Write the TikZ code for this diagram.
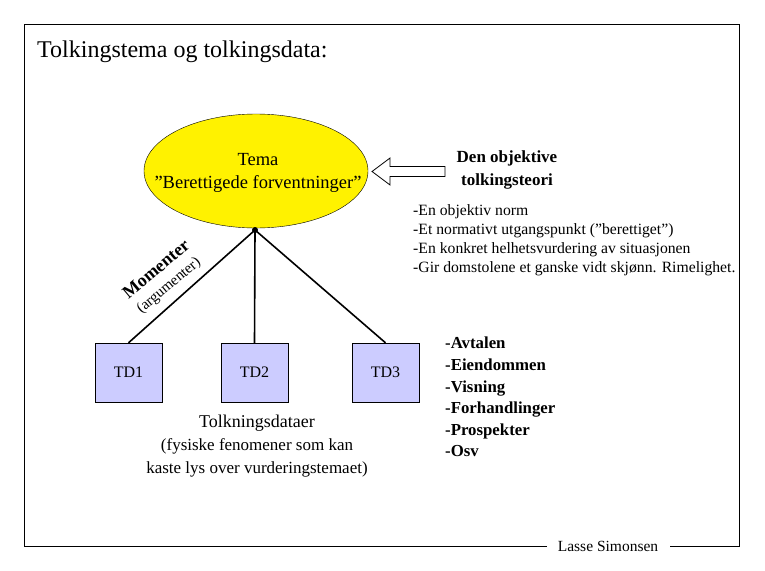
\documentclass[tikz,border=0pt]{standalone}
\usepackage{fontspec}
\setmainfont{Liberation Serif}
\usetikzlibrary{shapes.geometric}
\begin{document}
\begin{tikzpicture}[x=1pt,y=-1pt,
  tdbox/.style={draw=black,fill=tdfill,minimum width=67pt,minimum height=59pt,inner sep=0pt,font=\fontsize{16}{18}\selectfont},
  conn/.style={line width=1.6pt},
  blockarrow/.style={draw=black,fill=white,line width=0.8pt,line join=miter},
  txt/.style={inner sep=0pt,align=left}]
\definecolor{tdfill}{HTML}{CCCCFF}
\useasboundingbox (0,0) rectangle (765,570);
% frame
\node[inner sep=0pt,anchor=base] (sig) at (608,551) {\fontsize{15.5}{17}\selectfont Lasse Simonsen};
\coordinate (fbl) at (24,546);
\coordinate (ftl) at (24,24);
\coordinate (ftr) at (739,24);
\coordinate (fbr) at (739,546);
\coordinate (gapl) at (547,546);
\coordinate (gapr) at (670,546);
\draw[line width=0.8pt] (gapl) -- (fbl) -- (ftl) -- (ftr) -- (fbr) -- (gapr);
% title
\node[txt,anchor=base west] (title) at (37,57) {\fontsize{24}{28}\selectfont Tolkingstema og tolkingsdata:};
% ellipse
\node[ellipse,draw=black,fill=yellow,minimum width=224pt,minimum height=114pt,inner sep=0pt] (tema) at (256,171) {};
\node[align=center,inner sep=0pt,font=\fontsize{18.5}{23}\selectfont] (tematxt) at (258,173) {Tema\\''Berettigede forventninger''};
% block arrow
\draw[blockarrow] (372,171.5) -- (390,158) -- (390,166.5) -- (445,166.5) -- (445,176.5) -- (390,176.5) -- (390,185) -- cycle;
\node[align=center,inner sep=0pt,font=\bfseries\fontsize{17}{23}\selectfont] (teori) at (507,170) {Den objektive\\tolkingsteori};
% list
\node[txt,anchor=north west,font=\fontsize{15.7}{19}\selectfont] (list1) at (413,204) {-En objektiv norm\\-Et normativt utgangspunkt (''berettiget'')\\-En konkret helhetsvurdering av situasjonen\\-Gir domstolene et ganske vidt skjønn. Rimelighet.};
% TD boxes
\coordinate (apex) at (255,230);
\node[tdbox] (td1) at (128.5,372.5) {TD1};
\node[tdbox] (td2) at (254.5,372.5) {TD2};
\node[tdbox] (td3) at (385.5,372.5) {TD3};
\draw[conn] (apex) -- (td1.north);
\draw[conn] (apex) -- (td2.north);
\draw[conn] (apex) -- (td3.north);
\fill (apex) circle (3pt);
% momenter
\node[inner sep=0pt,rotate=40,font=\bfseries\fontsize{18}{20}\selectfont] (mom) at (156,269) {Momenter};
\node[inner sep=0pt,rotate=40,font=\fontsize{15}{17}\selectfont] (arg) at (169,286) {(argumenter)};
% tolkningsdataer
\node[align=center,inner sep=0pt,font=\fontsize{17}{23}\selectfont] (tdata) at (257,446) {\fontsize{18}{23}\selectfont Tolkningsdataer\\(fysiske fenomener som kan\\kaste lys over vurderingstemaet)};
% right list
\node[txt,anchor=north west,font=\bfseries\fontsize{16.8}{21.6}\selectfont] (list2) at (445,337) {-Avtalen\\-Eiendommen\\-Visning\\-Forhandlinger\\-Prospekter\\-Osv};
\end{tikzpicture}
\end{document}
